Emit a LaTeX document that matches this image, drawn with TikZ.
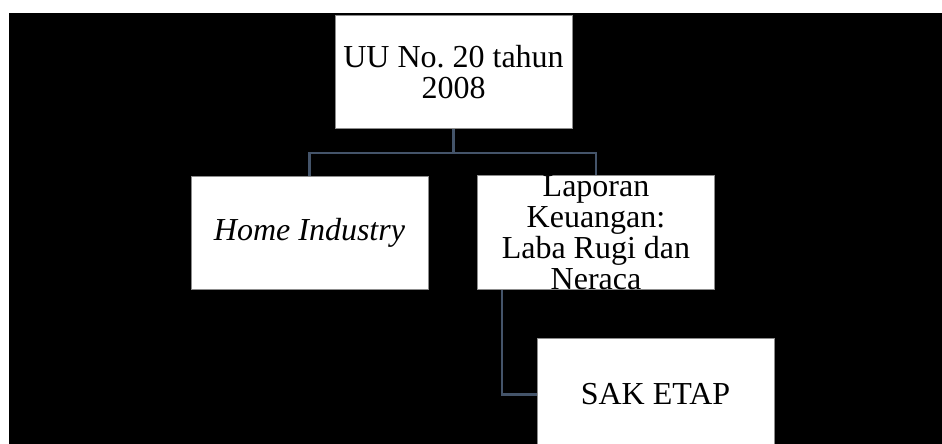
\documentclass[tikz,border=0pt]{standalone}
\usepackage{fontspec}
\setmainfont{Liberation Serif}
\frenchspacing
\definecolor{conn}{HTML}{44546A}
\definecolor{boxline}{HTML}{8C8C8C}
\tikzset{
  box/.style={draw=boxline, line width=1pt, fill=white, minimum width=237pt, minimum height=113pt, inner sep=0pt, align=center, font=\fontsize{32}{31}\selectfont},
  link/.style={draw=conn, line width=2.8pt}
}
\begin{document}
\begin{tikzpicture}[x=1pt,y=-1pt]
\useasboundingbox (0,0) rectangle (942,444);
\fill[white] (0,0) rectangle (942,444);
\fill[black] (9,13) rectangle (942,444);
\begin{scope}
\clip (0,0) rectangle (942,444);
\node[box] (top) at (453.5,72) {UU No. 20 tahun\\2008};
\node[box] (home) at (309.5,232.5) {\itshape Home Industry};
\node[box] (lap) at (596,232.5) {Laporan\\Keuangan:\\Laba Rugi dan\\Neraca};
\node[box] (sak) at (655.5,394.5) {SAK ETAP};
\coordinate (mid) at (453.5,153);
\draw[link] (top.south) -- (mid);
\draw[link] (home.north) |- (mid) -| (lap.north);
\draw[link] ([xshift=-94pt]lap.south) |- (sak.west);
\end{scope}
\end{tikzpicture}
\end{document}
